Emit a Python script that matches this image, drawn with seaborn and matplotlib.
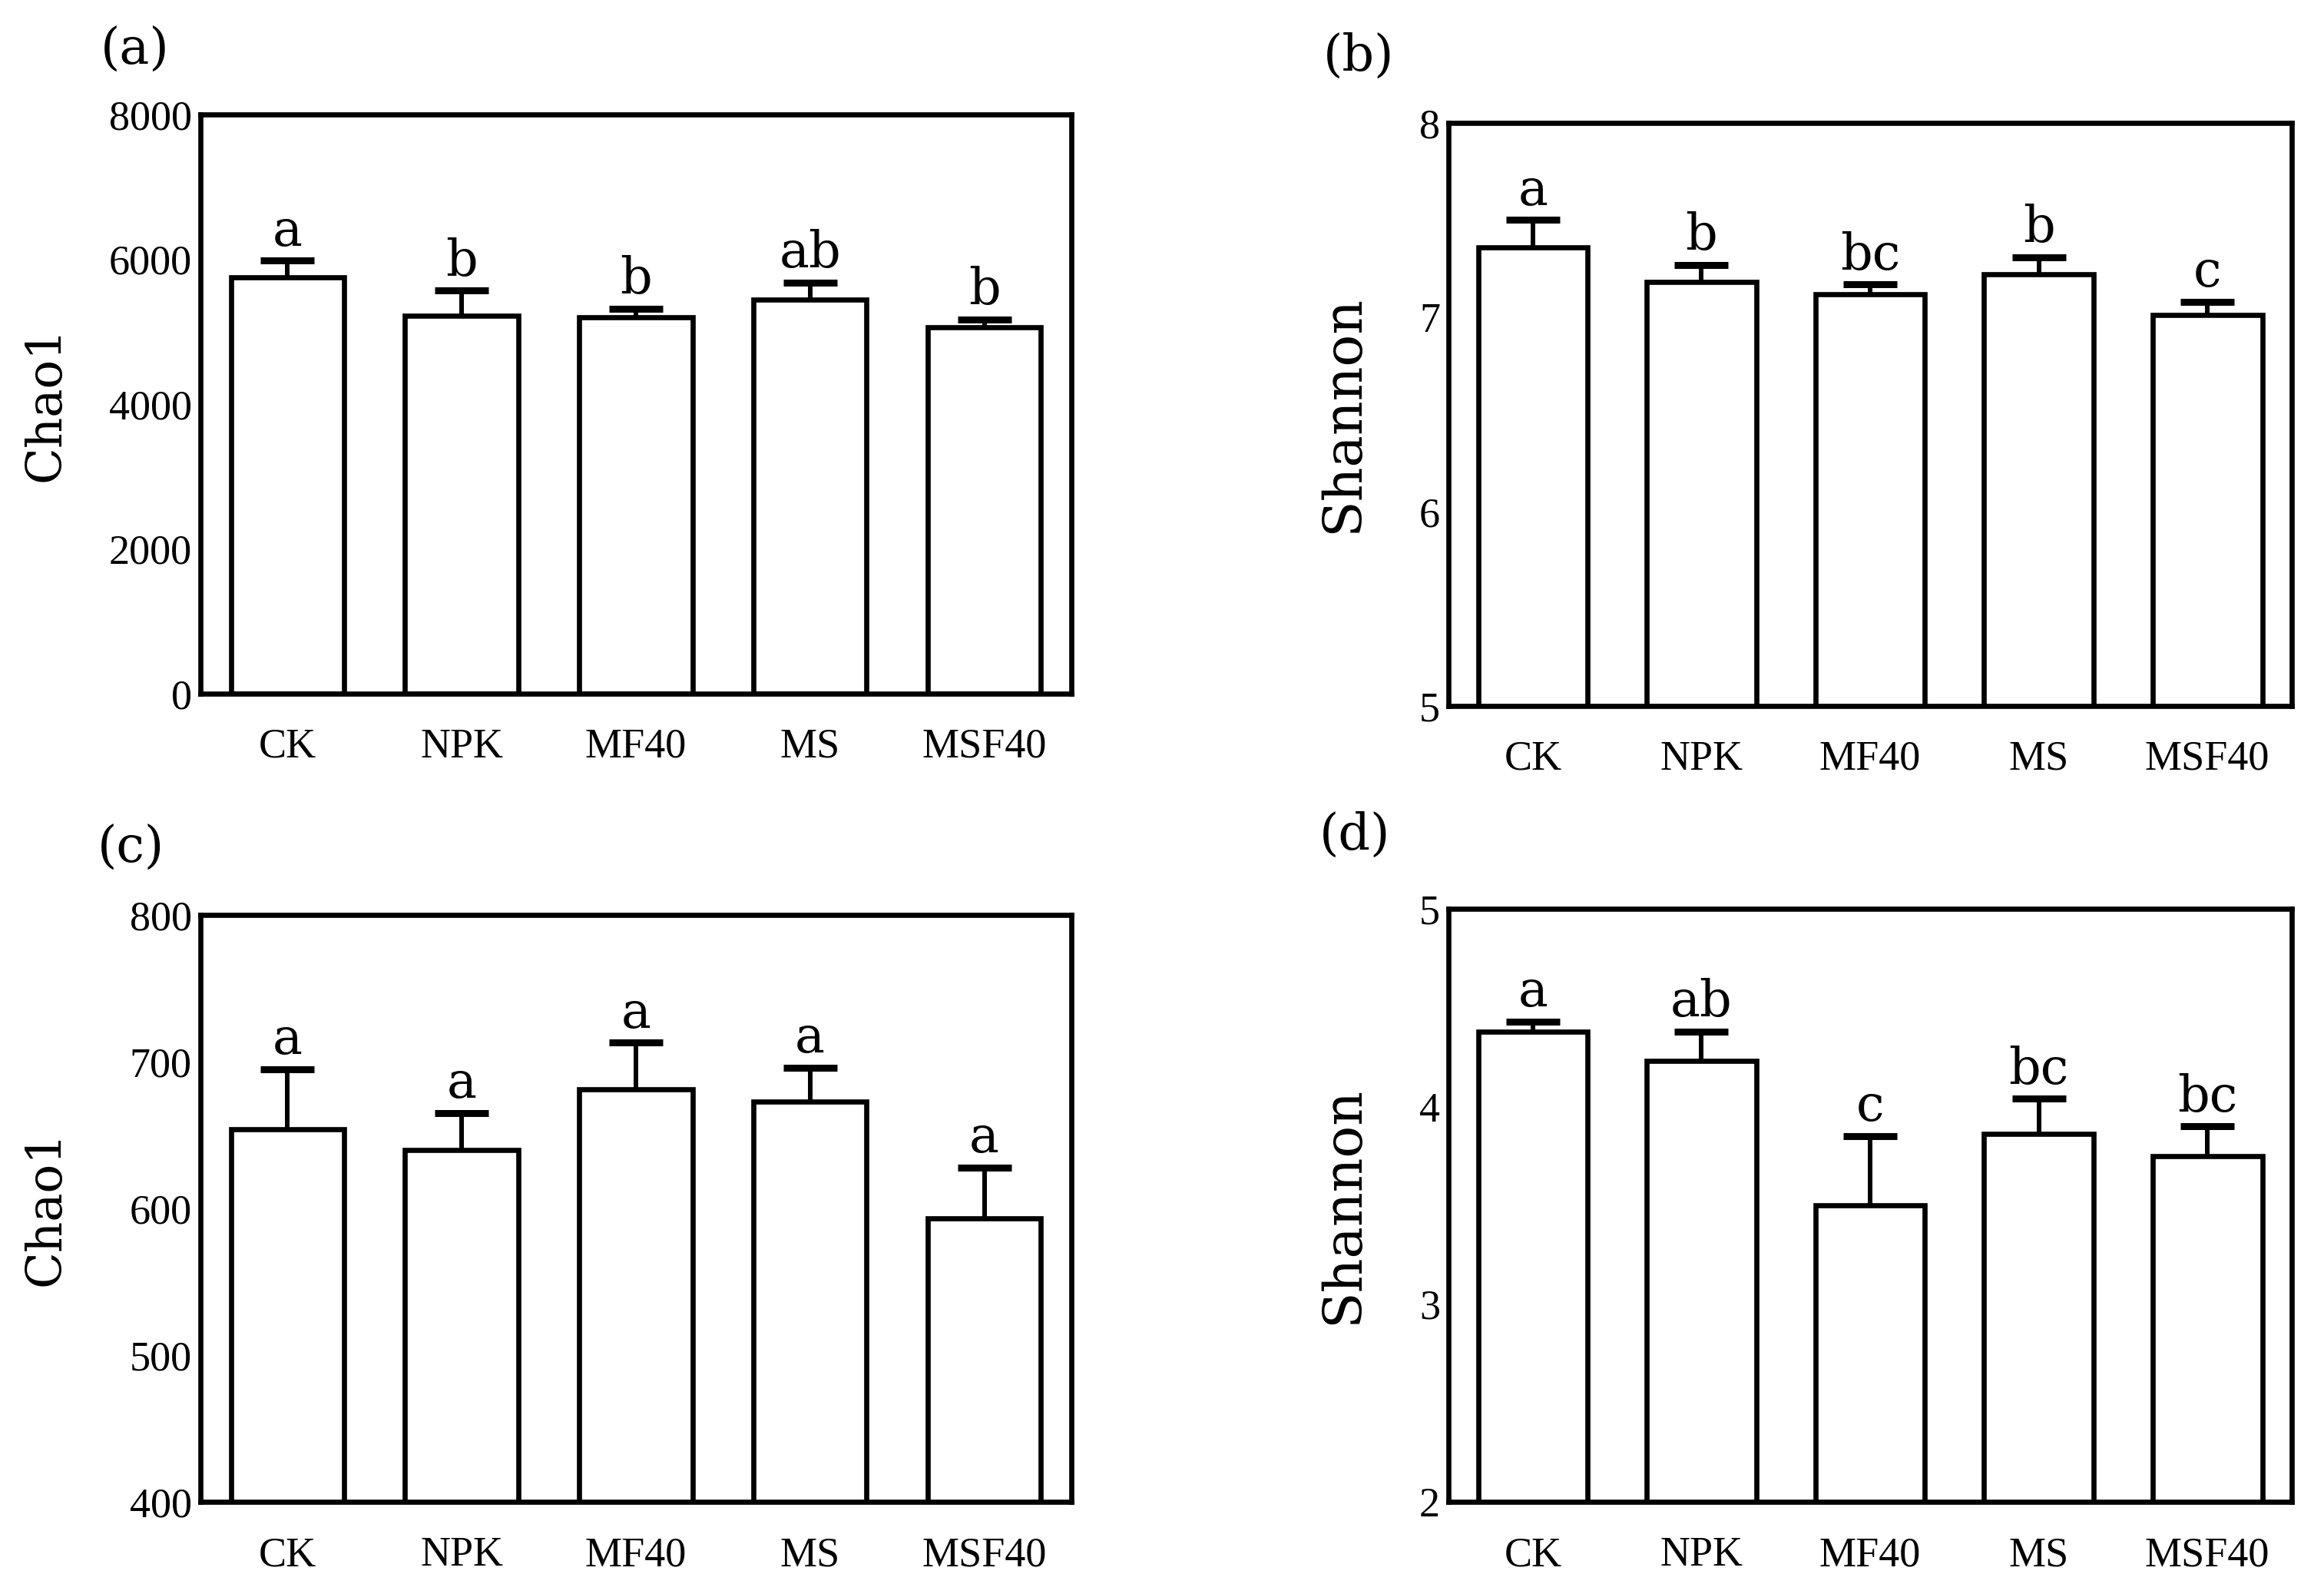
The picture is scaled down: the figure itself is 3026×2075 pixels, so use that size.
import seaborn as sns
import pandas as pd
import matplotlib.pyplot as plt

# treatments on the x axis
treatments = ['CK', 'NPK', 'MF40', 'MS', 'MSF40']

# (a) Chao1, top row
chao1_a = [5750, 5220, 5200, 5440, 5060]
chao1_a_err = [230, 350, 120, 240, 110]
chao1_a_sig = ['a', 'b', 'b', 'ab', 'b']

# (b) Shannon, top row
shannon_b = [7.36, 7.18, 7.12, 7.22, 7.01]
shannon_b_err = [0.14, 0.09, 0.05, 0.09, 0.07]
shannon_b_sig = ['a', 'b', 'bc', 'b', 'c']

# (c) Chao1, bottom row
chao1_c = [654, 640, 681, 673, 593]
chao1_c_err = [41, 25, 32, 23, 35]
chao1_c_sig = ['a', 'a', 'a', 'a', 'a']

# (d) Shannon, bottom row
shannon_d = [4.38, 4.23, 3.50, 3.86, 3.75]
shannon_d_err = [0.05, 0.15, 0.35, 0.18, 0.15]
shannon_d_sig = ['a', 'ab', 'c', 'bc', 'bc']

SERIF = ['DejaVu Serif']
TICKFONT = ['Liberation Serif', 'DejaVu Serif']


def draw_panel(ax, means, errs, sig, ylim, yticks, ylabel, label_x, label_size):
    """Open bars with error bars (lower half hidden behind the bar) and letters."""
    df = pd.DataFrame({'Treatment': treatments, 'Value': means})
    # error bars first, white bars on top hide the lower half
    ax.errorbar(range(len(means)), means, yerr=errs, fmt='none',
                ecolor='black', elinewidth=4.3, capsize=25, capthick=6.5,
                zorder=1)
    sns.barplot(data=df, x='Treatment', y='Value', ax=ax, color='white',
                edgecolor='black', linewidth=4.8, width=0.65, zorder=2)
    for i, (m, e, s) in enumerate(zip(means, errs, sig)):
        ax.annotate(s, (i, m + e), xytext=(0, 14), textcoords='offset points',
                    ha='center', va='baseline', fontsize=47, family=SERIF,
                    color='black')

    ax.set_xlim(-0.5, len(means) - 0.5)
    ax.set_ylim(*ylim)
    ax.set_yticks(yticks)
    ax.set_xlabel('')
    ax.set_ylabel(ylabel, fontsize=label_size, family=SERIF, color='black')
    ax.yaxis.set_label_coords(label_x, 0.5)
    for sp in ax.spines.values():
        sp.set_visible(True)
        sp.set_linewidth(4.8)
        sp.set_color('black')
        sp.set_zorder(4)
    ax.tick_params(axis='y', direction='in', length=15, width=4.5, pad=8,
                   colors='black')
    ax.tick_params(axis='x', length=0, pad=32, colors='black')
    for t in ax.get_xticklabels() + ax.get_yticklabels():
        t.set_fontsize(39)
        t.set_family(TICKFONT)


sns.set_theme(style='white')
plt.rcParams['font.family'] = ['DejaVu Serif']
plt.rcParams['text.color'] = 'black'
plt.rcParams['axes.labelcolor'] = 'black'

fig = plt.figure(figsize=(30.26, 20.75), dpi=100)
ax_a = fig.add_axes([0.0862, 0.5648, 0.3748, 0.3634])
ax_b = fig.add_axes([0.6233, 0.5571, 0.3628, 0.3658])
ax_c = fig.add_axes([0.0862, 0.0578, 0.3748, 0.3682])
ax_d = fig.add_axes([0.6233, 0.0578, 0.3628, 0.3721])

draw_panel(ax_a, chao1_a, chao1_a_err, chao1_a_sig, (0, 8000),
           [0, 2000, 4000, 6000, 8000], 'Chao1', -0.150, 45)
draw_panel(ax_b, shannon_b, shannon_b_err, shannon_b_sig, (5, 8),
           [5, 6, 7, 8], 'Shannon', -0.095, 50)
draw_panel(ax_c, chao1_c, chao1_c_err, chao1_c_sig, (400, 800),
           [400, 500, 600, 700, 800], 'Chao1', -0.150, 45)
draw_panel(ax_d, shannon_d, shannon_d_err, shannon_d_sig, (2, 5),
           [2, 3, 4, 5], 'Shannon', -0.095, 50)

fig.text(131 / 3026, 1 - 66 / 2075, '(a)', fontsize=47, ha='left', va='center')
fig.text(1723 / 3026, 1 - 74 / 2075, '(b)', fontsize=47, ha='left', va='center')
fig.text(127 / 3026, 1 - 1105 / 2075, '(c)', fontsize=47, ha='left', va='center')
fig.text(1718 / 3026, 1 - 1088 / 2075, '(d)', fontsize=47, ha='left', va='center')

fig.savefig('out.png', dpi=100, facecolor='white')
